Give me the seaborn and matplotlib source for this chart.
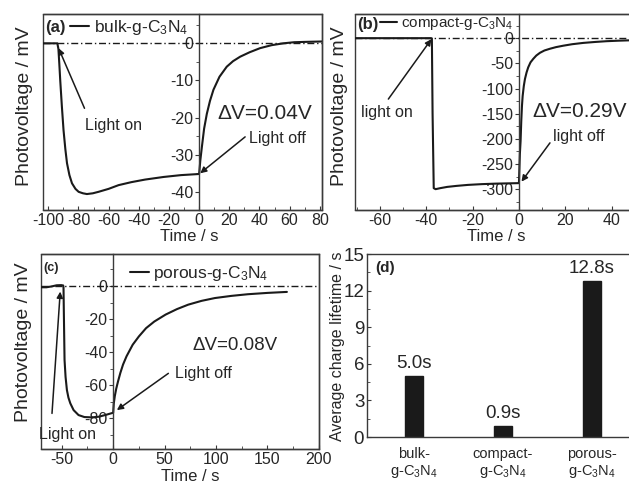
import matplotlib
matplotlib.use("Agg")
import matplotlib.pyplot as plt
from matplotlib.ticker import MultipleLocator
import seaborn as sns

# photovoltage transients (time in s, voltage in mV)
bulk_t = [-103.5, -94, -93.3, -92.7, -92.1, -91, -89.9, -88.7, -87.6, -86, -84.3, -82,
          -79.9, -77, -74.4, -70.5, -66.7, -60, -53.4, -45, -35.8, -23.6, -12, 0,
          0.8, 1.8, 3.3, 5.1, 7.2, 9.5, 13.5, 18.3, 22.5, 27.2, 33.5, 40.4, 48, 55.8,
          63, 71, 81.5]
bulk_v = [0, 0, -1.5, -5.5, -9.9, -17, -23.4, -28.5, -32.3, -35.5, -37.7, -39.2,
          -40, -40.4, -40.6, -40.4, -40, -39.2, -38.2, -37.4, -36.7, -36, -35.5, -35.2,
          -31.5, -28, -23, -19, -15.5, -12.5, -9, -6.3, -4.8, -3.6, -2.4, -1.3, -0.5, 0,
          0.3, 0.4, 0.5]

compact_t = [-70.8, -38, -37.6, -37.3, -36.8, -36, -34, -31, -27, -22, -16, -10, -5, 0,
             0.15, 0.4, 0.7, 1.0, 1.3, 1.6, 2.1, 2.6, 3.3, 4.0, 5.0, 6.2, 7.5, 9.1, 11,
             13.4, 16, 19.1, 23, 27.8, 33, 37.9, 43, 48.4]
compact_v = [0, 0, -0.5, -150, -298, -300, -298, -295.5, -293.5, -291.5, -290, -289,
             -288.5, -288, -265, -230, -205, -165, -135, -115, -95, -81, -68, -58, -48,
             -41, -34.5, -29, -24.5, -21, -17.8, -15, -12, -9.4, -7.5, -6, -5, -4.2]

porous_t = [-70.5, -65, -60, -55, -50.5, -48.6, -48.3, -48.0, -47.6, -47.3, -46.3, -45,
            -43.5, -41.7, -38.5, -33.7, -28, -20.7, -14, -7.8, 0, 0.6, 1.6, 3, 4.8, 7,
            9.6, 13, 19, 25, 32, 40, 51, 62, 73, 86, 99, 115, 131, 150, 169]
porous_v = [-0.8, -0.8, -0.3, 0.4, 0.5, 0.3, -1, -15, -32, -44.7, -55, -62.9, -67.5,
            -70.9, -75, -78, -79.2, -79.4, -79, -78, -76.6, -71, -66.5, -62, -57.5, -52.5,
            -47.5, -42.5, -35.5, -30.5, -25.5, -21.5, -17.3, -14, -11.3, -9, -7.3, -6,
            -5, -4.2, -3.6]

# average charge lifetimes (s)
samples = ["bulk-\ng-C$_3$N$_4$", "compact-\ng-C$_3$N$_4$", "porous-\ng-C$_3$N$_4$"]
lifetimes = [5.0, 0.9, 12.8]

sns.set_style("ticks")
plt.rcParams["font.family"] = ["Liberation Sans", "DejaVu Sans"]
plt.rcParams["mathtext.fontset"] = "custom"
plt.rcParams["mathtext.rm"] = "Liberation Sans"
plt.rcParams["mathtext.it"] = "Liberation Sans:italic"
plt.rcParams["mathtext.bf"] = "Liberation Sans:bold"
plt.rcParams["axes.unicode_minus"] = False

INK = "#1a1a1a"
FRAME = "#3a3a3a"
ARROW = dict(arrowstyle="-|>", color=INK, lw=1.1, mutation_scale=9, shrinkA=0, shrinkB=0)


def style_trace(ax, xlim, ylim, xmaj, xmin, ymaj, ymin, xlab_x):
    ax.set_xlim(xlim)
    ax.set_ylim(ylim)
    # origin-style: y axis sits at t = 0, box drawn around the panel
    ax.spines["left"].set_position(("data", 0))
    for s in ["top", "right", "bottom", "left"]:
        ax.spines[s].set_color(FRAME)
        ax.spines[s].set_linewidth(1.0)
    ax.patch.set_edgecolor(FRAME)
    ax.patch.set_linewidth(1.0)
    ax.axhline(0, color=INK, lw=1.0, ls=(0, (5, 2, 1, 2)), zorder=1)
    ax.xaxis.set_major_locator(MultipleLocator(xmaj))
    ax.xaxis.set_minor_locator(MultipleLocator(xmin))
    ax.yaxis.set_major_locator(MultipleLocator(ymaj))
    ax.yaxis.set_minor_locator(MultipleLocator(ymin))
    ax.tick_params(axis="x", which="major", direction="in", length=3, pad=2,
                   labelsize=11.5, color=FRAME)
    ax.tick_params(axis="x", which="minor", direction="in", length=2, color=FRAME)
    ax.tick_params(axis="y", which="major", direction="out", length=3, pad=1,
                   labelsize=11.5, color=FRAME)
    ax.tick_params(axis="y", which="minor", direction="out", length=2, color=FRAME)
    ax.set_xlabel("Time / s", fontsize=12)
    ax.set_ylabel("Photovoltage / mV", fontsize=14)
    ax.xaxis.set_label_coords(xlab_x, -0.095)


fig = plt.figure(figsize=(6.29, 4.83), dpi=100)

# (a) bulk
ax = fig.add_axes([0.0684, 0.5652, 0.4436, 0.4058])
sns.lineplot(x=bulk_t, y=bulk_v, ax=ax, color=INK, lw=1.5, sort=False,
             estimator=None, label="bulk-g-C$_3$N$_4$")
style_trace(ax, (-103.5, 81.5), (-44.9, 7.9), 20, 10, 10, 5, 0.524)
ax.yaxis.set_label_coords(-0.036, 0.532)
ax.legend(loc="center left", bbox_to_anchor=(0.097, 0.93), frameon=False,
          fontsize=12.5, handlelength=1.1, handletextpad=0.25, borderpad=0,
          borderaxespad=0)
ax.text(0.007, 0.93, "(a)", transform=ax.transAxes, ha="left", va="center",
        fontsize=12, fontweight="bold")
ax.annotate("", xy=(-93.2, -1.3), xytext=(-76, -17.5), arrowprops=ARROW)
ax.text(-56.5, -22, "Light on", ha="center", va="center", fontsize=11.5)
ax.annotate("", xy=(0.7, -35), xytext=(30.5, -25.2), arrowprops=ARROW)
ax.text(51.7, -25.6, "Light off", ha="center", va="center", fontsize=11.5)
ax.text(43.7, -18.9, "ΔV=0.04V", ha="center", va="center", fontsize=15)

# (b) compact
ax = fig.add_axes([0.5644, 0.5652, 0.4388, 0.4058])
sns.lineplot(x=compact_t, y=compact_v, ax=ax, color=INK, lw=1.5, sort=False,
             estimator=None, label="compact-g-C$_3$N$_4$")
style_trace(ax, (-70.8, 48.4), (-341.4, 48.0), 20, 10, 50, 25, 0.511)
ax.yaxis.set_label_coords(-0.025, 0.528)
ax.legend(loc="center left", bbox_to_anchor=(0.091, 0.95), frameon=False,
          fontsize=11, handlelength=1.1, handletextpad=0.25, borderpad=0,
          borderaxespad=0)
ax.text(0.007, 0.945, "(b)", transform=ax.transAxes, ha="left", va="center",
        fontsize=12, fontweight="bold")
ax.annotate("", xy=(-37.8, -2), xytext=(-56.4, -121), arrowprops=ARROW)
ax.text(-57.1, -148, "light on", ha="center", va="center", fontsize=11.5)
ax.annotate("", xy=(1.1, -285), xytext=(13.4, -208), arrowprops=ARROW)
ax.text(25.9, -195, "light off", ha="center", va="center", fontsize=11.5)
ax.text(26.4, -145, "ΔV=0.29V", ha="center", va="center", fontsize=15)

# (c) porous
ax = fig.add_axes([0.0647, 0.0704, 0.4429, 0.4037])
sns.lineplot(x=porous_t, y=porous_v, ax=ax, color=INK, lw=1.5, sort=False,
             estimator=None, label="porous-g-C$_3$N$_4$")
style_trace(ax, (-70.5, 200.5), (-98.5, 19.3), 50, 25, 20, 10, 0.536)
ax.yaxis.set_label_coords(-0.031, 0.546)
ax.xaxis.set_label_coords(0.536, -0.105)
ax.legend(loc="center left", bbox_to_anchor=(0.32, 0.901), frameon=False,
          fontsize=12.5, handlelength=1.1, handletextpad=0.25, borderpad=0,
          borderaxespad=0)
ax.text(0.01, 0.93, "(c)", transform=ax.transAxes, ha="left", va="center",
        fontsize=9, fontweight="bold")
ax.annotate("", xy=(-51.5, -3.4), xytext=(-59.5, -77), arrowprops=ARROW)
ax.text(-44.2, -89.5, "Light on", ha="center", va="center", fontsize=11.5)
ax.annotate("", xy=(3.6, -75), xytext=(53.7, -52.8), arrowprops=ARROW)
ax.text(87.7, -52.8, "Light off", ha="center", va="center", fontsize=11.5)
ax.text(118.4, -35.7, "ΔV=0.08V", ha="center", va="center", fontsize=13.5)

# (d) lifetimes
ax = fig.add_axes([0.5835, 0.0952, 0.4197, 0.3789])
sns.barplot(x=samples, y=lifetimes, ax=ax, color=INK, width=0.2, saturation=1,
            edgecolor=INK)
ax.bar_label(ax.containers[0], labels=[f"{v:.1f}s" for v in lifetimes],
             padding=3, fontsize=13.5)
ax.set_xlim(-0.528, 2.438)
ax.set_ylim(0, 15)
ax.yaxis.set_major_locator(MultipleLocator(3))
ax.yaxis.set_minor_locator(MultipleLocator(1.5))
for s in ["top", "right", "bottom", "left"]:
    ax.spines[s].set_color(FRAME)
    ax.spines[s].set_linewidth(1.0)
ax.tick_params(axis="x", length=0, pad=7, labelsize=10.5)
ax.tick_params(axis="y", which="major", direction="in", length=3, pad=2,
               labelsize=13.5, color=FRAME)
ax.tick_params(axis="y", which="minor", direction="in", length=2, color=FRAME)
ax.set_xlabel("")
ax.set_ylabel("Average charge lifetime / s", fontsize=11.5)
ax.yaxis.set_label_coords(-0.082, 0.498)
ax.text(0.03, 0.923, "(d)", transform=ax.transAxes, ha="left", va="center",
        fontsize=11, fontweight="bold")

fig.savefig("out.png", dpi=100)
